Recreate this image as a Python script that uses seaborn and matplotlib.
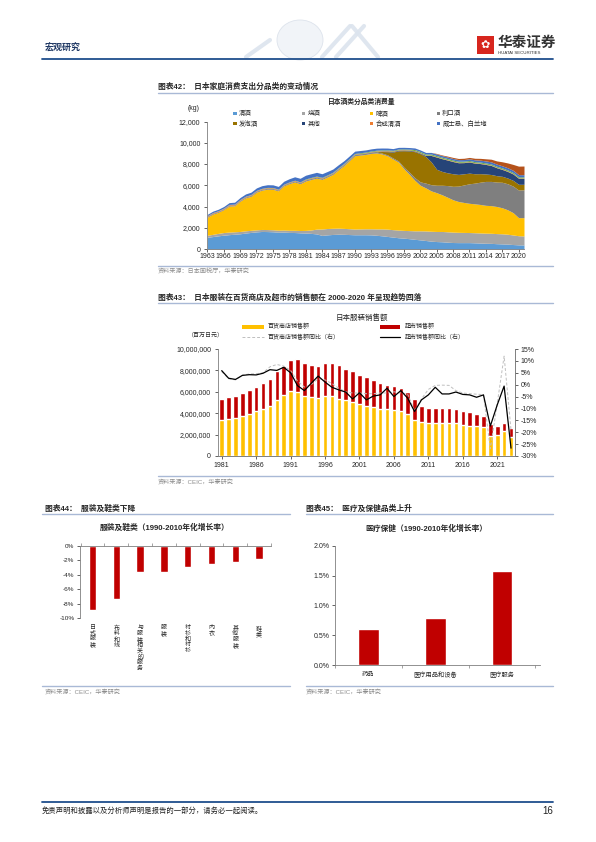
import numpy as np
import pandas as pd
import matplotlib
matplotlib.use("Agg")
import matplotlib.pyplot as plt
import seaborn as sns
from matplotlib.patches import Rectangle, Ellipse
from matplotlib.lines import Line2D
from matplotlib.ticker import FuncFormatter

# ---------------- data: chart 42 (stacked area, kg) ----------------
years_alc = list(range(1963, 2022))
sake = [1100, 1170, 1240, 1300, 1350, 1390, 1430, 1500, 1560, 1610,
        1650, 1640, 1620, 1580, 1590, 1560, 1550, 1520, 1500, 1470,
        1420, 1280, 1330, 1370, 1390, 1380, 1360, 1340, 1340, 1340,
        1330, 1290, 1240, 1180, 1120, 1060, 1020, 970, 910, 860,
        800, 740, 700, 680, 640, 610, 600, 600, 600, 580,
        560, 540, 530, 500, 480, 460, 420, 390, 380]
shochu = [190, 210, 230, 250, 240, 230, 220, 210, 200, 190,
          190, 190, 190, 190, 195, 200, 210, 220, 250, 320,
          450, 600, 600, 580, 570, 560, 550, 540, 550, 560,
          570, 600, 650, 690, 700, 720, 730, 760, 800, 850,
          900, 930, 950, 970, 980, 980, 970, 960, 950, 950,
          950, 950, 950, 950, 950, 930, 900, 860, 850]
beer = [1700, 1900, 1980, 2150, 2450, 2450, 2850, 3100, 3200, 3550,
        3700, 3800, 3810, 3700, 4150, 4390, 4550, 4400, 4650, 4750,
        4800, 4670, 4850, 5080, 5490, 5900, 6400, 6900, 6950, 7000,
        7100, 7150, 7050, 6900, 6650, 6400, 5800, 5300, 4750, 4290,
        4050, 3800, 3650, 3450, 3250, 3040, 2900, 2820, 2750, 2720,
        2680, 2620, 2600, 2550, 2450, 2300, 2100, 1700, 1720]
liqueur = [40, 40, 40, 40, 45, 45, 45, 50, 50, 50,
           50, 50, 50, 50, 50, 55, 55, 55, 55, 55,
           55, 55, 60, 60, 60, 65, 65, 70, 70, 75,
           75, 80, 85, 90, 100, 110, 150, 200, 250, 320,
           450, 580, 700, 900, 1100, 1270, 1450, 1650, 1840, 1950,
           2100, 2250, 2280, 2300, 2400, 2450, 2500, 2600, 2620]
happoshu = [0] * 31 + [30, 150, 300, 550, 950, 1550, 2000, 2450, 2650,
                       2500, 2150, 1500, 1300, 1200, 1180, 1100, 1050, 1000, 880,
                       800, 700, 650, 600, 560, 540, 540, 540, 520]
other = [30] * 17 + [40] * 16 + [60] * 7 + [100] + [600, 1150, 1200, 1200, 1150, 1100, 1050, 1050, 1000,
                                                    950, 900, 850, 750, 650, 620, 600, 570, 560]
synth_sake = [60] * 13 + [50] * 15 + [40] * 31
fruit_wine = [20] * 8 + [30] * 10 + [50] * 10 + [70] * 10 + [100] * 21
whisky = [120, 130, 140, 150, 170, 180, 190, 210, 220, 230,
          250, 250, 250, 260, 280, 300, 320, 340, 350, 350,
          350, 340, 320, 300, 280, 260, 240, 220, 210, 200,
          200, 190, 180, 170, 160, 155, 150, 150, 150, 150,
          150, 150, 150, 150, 150, 150, 150, 150, 160, 170,
          180, 190, 200, 200, 200, 210, 210, 200, 200]
other_top = [0] * 42 + [50, 60, 80, 100, 110, 120, 130, 150, 170, 200,
                        250, 300, 380, 450, 550, 800, 820]

# ---------------- data: chart 43 (bars in 百万日元, lines in %) ----------------
years_cl = [str(y) for y in range(1981, 2024)]
dept_sales = [3340000, 3470000, 3530000, 3720000, 3930000, 4180000, 4400000, 4710000, 5200000, 5670000,
              6040000, 5940000, 5630000, 5510000, 5420000, 5570000, 5600000, 5360000, 5230000, 5050000,
              4890000, 4710000, 4610000, 4430000, 4400000, 4330000, 4180000, 3960000, 3370000, 3160000,
              3100000, 3100000, 3130000, 3130000, 3100000, 2880000, 2820000, 2760000, 2720000, 1890000,
              1950000, 2290000, 1780000]
super_sales = [1950000, 2040000, 2100000, 2160000, 2200000, 2260000, 2380000, 2500000, 2730000, 2750000,
               2940000, 3160000, 3100000, 3000000, 3000000, 3100000, 3130000, 3120000, 2940000, 2910000,
               2700000, 2660000, 2450000, 2350000, 2260000, 2230000, 2140000, 2020000, 1920000, 1480000,
               1420000, 1420000, 1390000, 1360000, 1300000, 1360000, 1270000, 1200000, 1060000, 1080000,
               900000, 840000, 850000]
dept_yoy = [5.5, 2.5, 2.0, 4.0, 4.5, 4.6, 5.0, 7.5, 8.5, 7.8,
            6.0, 1.5, -1.0, 0.0, 2.5, 2.0, 0.5, -1.5, -3.0, -3.5,
            -3.5, -3.8, -3.8, -3.5, -3.5, -3.0, -3.5, -4.0, -11.0, -6.0,
            -2.0, -0.3, -0.2, -0.3, -2.5, -3.5, -3.8, -4.0, -4.2, -27.0,
            -8.0, 12.0, -19.0]
super_yoy = [5.9, 2.7, 2.2, 3.9, 4.2, 4.1, 4.8, 6.3, 6.0, 7.3,
             5.0, -0.4, -2.5, 0.6, 3.6, 1.1, -1.1, -2.2, -3.1, -6.0,
             -3.4, -6.4, -4.8, -4.3, -1.5, -5.0, -2.5, -5.7, -11.3, -6.4,
             -4.3, -1.1, -3.9, -3.9, -3.1, -4.1, -4.3, -5.3, -4.3, -17.4,
             -8.5, -0.6, -26.7]

# ---------------- data: chart 44 / 45 ----------------
cloth_cats = ["日式服装", "布料和线", "与服装相关的服务", "服装", "衬衫和衬衫", "内衣", "其他服装", "鞋类"]
cloth_vals = [-8.85, -7.35, -3.67, -3.58, -2.9, -2.52, -2.2, -1.88]
med_cats = ["药品", "医疗用品和设备", "医疗服务"]
med_vals = [0.60, 0.78, 1.575]

# ---------------- style ----------------
sns.set_theme(style="white")
plt.rcParams['font.family'] = ['Liberation Sans', 'Noto Sans CJK SC']
plt.rcParams['axes.unicode_minus'] = False

W, H = 596, 842
fig = plt.figure(figsize=(W / 100, H / 100), dpi=100)
fig.patch.set_facecolor('white')

def fx(x): return x / W
def fy(y): return 1 - y / H
def add_ax(l, t, r, b): return fig.add_axes([fx(l), fy(b), (r - l) / W, (b - t) / H])
def hline(x0, x1, y, color, lw):
    fig.add_artist(Line2D([fx(x0), fx(x1)], [fy(y), fy(y)], color=color, lw=lw))
def txt(x, y, s, **kw):
    kw.setdefault('va', 'center')
    fig.text(fx(x), fy(y), s, **kw)
def rect(x, y, w, h, color):
    fig.add_artist(Rectangle((fx(x), fy(y + h)), w / W, h / H, color=color, lw=0))

AX = '#7F7F7F'
TK = '#262626'
SEP = '#A9B9D6'
SRC = '#8C8C8C'
RED = '#C00000'
YEL = '#FFC000'

def style_axes(ax):
    for s in ax.spines.values():
        s.set_color(AX)
        s.set_linewidth(0.6)

# ---------------- header ----------------
fig.add_artist(Ellipse((fx(300), fy(40)), 46 / W, 40 / H, facecolor='#F1F4F8', edgecolor='#DDE3EC',
                       lw=0.6, transform=fig.transFigure))
for (x0, x1, y0, y1) in [(322, 350, 57, 26), (336, 364, 57, 26), (352, 378, 26, 57), (246, 270, 57, 40)]:
    fig.add_artist(Line2D([fx(x0), fx(x1)], [fy(y0), fy(y1)], color='#DCE4EE', lw=3, alpha=0.9))
txt(45, 48.5, "宏观研究", fontsize=6.5, fontweight='bold', color='#1F3864', ha='left')
rect(477, 36, 17, 18, '#D7261E')
txt(485.5, 45, "✿", fontsize=8, color='white', ha='center', family=['DejaVu Sans'])
txt(498, 43, "华泰证券", fontsize=10.5, fontweight='bold', color='#333333', ha='left')
txt(498, 52.5, "HUATAI SECURITIES", fontsize=3.2, color='#333333', ha='left')
hline(42, 553, 58.5, '#1F4E8C', 1.3)

# ---------------- footer ----------------
hline(42, 553, 801.5, '#1F4E8C', 1.3)
txt(42, 811, "免责声明和披露以及分析师声明是报告的一部分，请务必一起阅读。", fontsize=5.3,
    style='italic', color='#222222', ha='left')
txt(553, 811, "16", fontsize=7, color='#222222', ha='right')

# ================= Chart 42 =================
txt(158, 87.3, "图表42：  日本家庭消费支出分品类的变动情况", fontsize=5.6, fontweight='bold', ha='left')
hline(158, 553, 93.3, SEP, 1.0)
txt(362, 102, "日本酒类分品类消费量", fontsize=4.9, fontweight='bold', ha='center')
txt(188, 108, "(kg)", fontsize=5, ha='left', color=TK)

alc_labels = ["清酒", "烧酒", "啤酒", "利口酒", "发泡酒", "其他", "合成清酒", "果酒", "威士忌、白兰地", "其他类"]
alc_colors = ['#5B9BD5', '#A5A5A5', '#FFC000', '#7F7F7F', '#997300', '#264478',
              '#ED7D31', '#70AD47', '#4472C4', '#B5521B']
alc_series = [sake, shochu, beer, liqueur, happoshu, other, synth_sake, fruit_wine, whisky, other_top]

ax1 = add_ax(207.3, 121.5, 524, 249)
ax1.stackplot(years_alc, *alc_series, colors=alc_colors, linewidth=0)
ax1.set_xlim(1963, 2021)
ax1.set_ylim(0, 12000)
ax1.set_yticks(range(0, 12001, 2000))
ax1.yaxis.set_major_formatter(FuncFormatter(lambda v, p: f"{int(v):,}"))
ax1.set_xticks(range(1963, 2021, 3))
ax1.set_xticklabels([str(y) for y in range(1963, 2021, 3)])
style_axes(ax1)
ax1.spines['top'].set_visible(False)
ax1.spines['right'].set_visible(False)
ax1.tick_params(axis='both', labelsize=5, colors=TK, length=2, width=0.5, pad=1.5, direction='out',
                left=True, bottom=True)
ax1.tick_params(axis='y', pad=3)
ax1.tick_params(axis='x', pad=1.2)
ax1.set_facecolor('white')

legend_pos = [(235, 113.3), (303.3, 113.3), (371.7, 113.3), (438.3, 113.3),
              (235, 123.3), (303.3, 123.3), (371.7, 123.3), (438.3, 123.3)]
legend_idx = [0, 1, 2, 3, 4, 5, 6, 8]
for (lx, ly), i in zip(legend_pos, legend_idx):
    rect(lx - 1.6, ly - 1.6, 3.2, 3.2, alc_colors[i])
    txt(lx + 4, ly, alc_labels[i], fontsize=4.6, ha='left', color=TK)

hline(158, 553, 265.7, SEP, 1.0)
txt(158, 270.7, "资料来源：日本国税厅，华泰研究", fontsize=4.4, ha='left', color=SRC)

# ================= Chart 43 =================
txt(158, 297.3, "图表43：  日本服装在百货商店及超市的销售额在 2000-2020 年呈现趋势回落",
    fontsize=5.6, fontweight='bold', ha='left')
hline(158, 553, 303.3, SEP, 1.0)
txt(362, 318, "日本服装销售额", fontsize=5.4, ha='center', color=TK)
rect(242, 324.5, 22, 4, YEL)
txt(268, 326.5, "百货商店销售额", fontsize=4.3, ha='left', color=TK)
rect(380, 324.5, 20, 4, RED)
txt(405, 326.5, "超市销售额", fontsize=4.3, ha='left', color=TK)
fig.add_artist(Line2D([fx(242), fx(264)], [fy(337), fy(337)], color='#BFBFBF', lw=0.7, ls=(0, (3, 2))))
txt(268, 337, "百货商店销售额同比（右）", fontsize=4.3, ha='left', color=TK)
fig.add_artist(Line2D([fx(380), fx(400)], [fy(337), fy(337)], color='black', lw=0.9))
txt(405, 337, "超市销售额同比（右）", fontsize=4.3, ha='left', color=TK)
txt(188, 334.5, "（百万日元）", fontsize=4.3, ha='left', color=TK)

df2 = pd.DataFrame({"year": years_cl, "dept": dept_sales, "super": super_sales,
                    "dept_yoy": dept_yoy, "super_yoy": super_yoy})
df2["total"] = df2["dept"] + df2["super"]
ax2 = add_ax(218, 349, 515, 456)
sns.barplot(data=df2, x="year", y="total", color=RED, saturation=1, width=0.66, ax=ax2)
sns.barplot(data=df2, x="year", y="dept", color=YEL, saturation=1, width=0.66, ax=ax2)
n2 = len(years_cl)
ax2.set_xlim(-0.54, n2 - 1 + 0.58)
ax2.set_ylim(0, 10000000)
ax2.set_yticks(range(0, 10000001, 2000000))
ax2.yaxis.set_major_formatter(FuncFormatter(lambda v, p: f"{int(v):,}"))
ax2.set_xticks(range(0, n2, 5))
ax2.set_xticklabels([years_cl[i] for i in range(0, n2, 5)], rotation=0)
ax2.set_xlabel("")
ax2.set_ylabel("")
style_axes(ax2)
ax2.spines['top'].set_visible(False)
ax2.tick_params(axis='both', labelsize=5, colors=TK, length=2, width=0.5, direction='out',
                left=True, bottom=True)
ax2.tick_params(axis='y', pad=3)
ax2.tick_params(axis='x', pad=2)

ax2b = ax2.twinx()
xs = np.arange(n2)
sns.lineplot(x=xs, y=df2["dept_yoy"].values, ax=ax2b, color='#BFBFBF', lw=0.7, linestyle=(0, (3, 2)))
sns.lineplot(x=xs, y=df2["super_yoy"].values, ax=ax2b, color='black', lw=0.9)
ax2b.set_ylim(-30, 15)
ax2b.set_yticks(range(-30, 16, 5))
ax2b.yaxis.set_major_formatter(FuncFormatter(lambda v, p: f"{int(v)}%"))
ax2b.set_xlim(-0.54, n2 - 1 + 0.58)
style_axes(ax2b)
ax2b.spines['top'].set_visible(False)
ax2b.spines['left'].set_visible(False)
ax2b.tick_params(axis='y', labelsize=5, colors=TK, length=2, width=0.5, direction='out', right=True, pad=2)
ax2b.set_ylabel("")
ax2b.grid(False)

hline(158, 553, 476, SEP, 1.0)
txt(158, 481.7, "资料来源：CEIC，华泰研究", fontsize=4.4, ha='left', color=SRC)

# ================= Chart 44 =================
txt(45, 509, "图表44：  服装及鞋类下降", fontsize=5.6, fontweight='bold', ha='left')
hline(42, 290, 514, SEP, 1.0)
txt(165, 528.3, "服装及鞋类（1990-2010年化增长率）", fontsize=5.6, fontweight='bold', ha='center')

df3 = pd.DataFrame({"cat": cloth_cats, "val": cloth_vals})
ax3 = add_ax(80, 545.7, 271, 618.3)
sns.barplot(data=df3, x="cat", y="val", color=RED, saturation=1, width=0.31, ax=ax3)
ax3.set_xlim(-0.53, 7.45)
ax3.set_ylim(-10, 0)
ax3.set_yticks(range(-10, 1, 2))
ax3.yaxis.set_major_formatter(FuncFormatter(lambda v, p: f"{int(v)}%"))
ax3.set_xticks(range(len(cloth_cats)))
ax3.set_xticklabels(["\n".join(c) for c in cloth_cats], va='top', ha='center',
                    linespacing=1.12, rotation=0)
ax3.set_xticks(np.arange(-0.5, len(cloth_cats), 1.0), minor=True)
ax3.set_xlabel("")
ax3.set_ylabel("")
style_axes(ax3)
ax3.spines['bottom'].set_visible(False)
ax3.spines['right'].set_visible(False)
ax3.tick_params(axis='y', labelsize=4.6, colors=TK, length=2, width=0.5, direction='out', left=True, pad=2)
ax3.tick_params(axis='x', which='major', labelsize=4.3, colors=TK, length=0, pad=5, labelrotation=0)
ax3.tick_params(axis='x', which='minor', top=True, bottom=False, length=2, width=0.5, color=AX, direction='out')
for lab in ax3.get_xticklabels():
    lab.set_rotation(0)

hline(42, 290, 686, SEP, 1.0)
txt(45, 691.7, "资料来源：CEIC，华泰研究", fontsize=4.4, ha='left', color=SRC)

# ================= Chart 45 =================
txt(306, 509, "图表45：  医疗及保健品类上升", fontsize=5.6, fontweight='bold', ha='left')
hline(306, 553, 514, SEP, 1.0)
txt(426, 529, "医疗保健（1990-2010年化增长率）", fontsize=5.6, fontweight='bold', ha='center')

df4 = pd.DataFrame({"cat": med_cats, "val": med_vals})
ax4 = add_ax(335, 545.7, 540, 665)
sns.barplot(data=df4, x="cat", y="val", color=RED, saturation=1, width=0.31, ax=ax4)
ax4.set_xlim(-0.5, 2.57)
ax4.set_ylim(0, 2.0)
ax4.set_yticks([0, 0.5, 1.0, 1.5, 2.0])
ax4.yaxis.set_major_formatter(FuncFormatter(lambda v, p: f"{v:.1f}%"))
ax4.set_xticks(np.arange(-0.5, 3, 1.0), minor=True)
ax4.set_xlabel("")
ax4.set_ylabel("")
style_axes(ax4)
ax4.spines['top'].set_visible(False)
ax4.spines['right'].set_visible(False)
ax4.tick_params(axis='y', labelsize=5, colors=TK, length=2, width=0.5, direction='out', left=True, pad=2)
ax4.tick_params(axis='x', which='major', labelsize=4.5, colors=TK, length=0, pad=5)
ax4.tick_params(axis='x', which='minor', bottom=True, length=2, width=0.5, color=AX, direction='out')

hline(306, 553, 686, SEP, 1.0)
txt(306, 691.7, "资料来源：CEIC，华泰研究", fontsize=4.4, ha='left', color=SRC)

fig.savefig("out.png", dpi=100, facecolor='white')
